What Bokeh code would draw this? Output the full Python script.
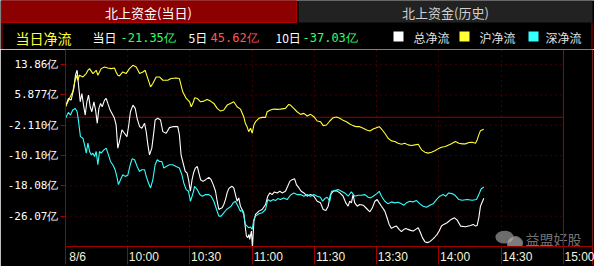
from bokeh.plotting import figure
from bokeh.layouts import column
from bokeh.models import Range1d, FixedTicker, Span, BoxAnnotation
from bokeh.core.properties import value
from bokeh.embed import file_html
from bokeh.resources import INLINE

# ---------------- data (minutes after 9:30 on a continuous session axis, value in 亿) ----------------
total_flow = [
    (0, 2.76), (1.4, 4.95), (2.7, 4.51), (4.0, 7.57), (4.8, 11.06), (5.6, 12.37), (6.3, 8.44), (7.1, 4.07), (7.9, 6.26), (8.7, 3.20),
    (9.5, 0.58), (10.3, 4.07), (11.1, 5.82), (11.9, 2.76), (12.7, 1.45), (13.7, 4.07), (14.5, 1.89), (15.3, -1.60), (16.1, 2.33), (16.9, 3.64),
    (17.7, 2.76), (18.8, 4.51), (19.6, 4.95), (20.4, 3.64), (21.5, 1.89), (22.8, 0.58), (23.6, -0.29), (24.4, -2.04), (25.2, -8.15), (26.0, -6.41),
    (27.2, -3.35), (28.4, -4.22), (29.6, -5.10), (30.5, -2.04), (31.3, 1.45), (32.5, 3.20), (33.6, 2.33), (34.5, -0.29), (35.7, -2.48), (36.8, -2.91),
    (38.1, -1.60), (38.9, -3.79), (39.7, -7.28), (40.5, -9.90), (41.6, -8.15), (42.6, -3.79), (43.2, -0.73), (44.5, -0.29), (45.8, -0.73), (46.9, -3.79),
    (48.5, -4.22), (50.1, -2.74), (51.7, -2.48), (54.1, -2.48), (54.9, -4.66), (55.7, -9.90), (56.9, -12.52), (57.7, -14.27), (58.6, -14.70), (59.3, -16.45),
    (60.2, -19.51), (61.0, -16.45), (61.7, -14.70), (62.6, -13.39), (63.5, -12.96), (64.3, -14.70), (65.1, -16.45), (66.3, -16.89), (67.5, -16.45), (69.1, -15.84),
    (70.2, -16.45), (71.2, -17.76), (72.3, -19.51), (73.1, -22.13), (73.9, -24.31), (74.7, -24.05), (75.5, -23.87), (76.3, -23.00), (77.1, -21.69), (77.9, -19.94),
    (78.7, -18.81), (79.5, -18.46), (80.3, -18.19), (81.1, -18.63), (81.9, -20.38), (82.7, -22.13), (83.5, -21.25), (84.3, -23.44), (85.1, -24.31), (85.9, -25.18),
    (86.7, -29.11), (87.2, -31.30), (87.9, -31.73), (88.4, -30.86), (88.8, -32.17), (89.6, -29.99), (90.1, -34.35), (90.8, -27.37), (91.6, -25.62), (93.2, -24.74),
    (94.8, -24.31), (96.4, -23.00), (97.5, -20.81), (98.5, -19.94), (99.6, -20.38), (100.7, -19.68), (102.0, -19.94), (103.3, -19.51), (104.4, -19.94), (106.0, -19.51),
    (107.1, -18.19), (108.1, -16.89), (109.2, -16.45), (110.4, -16.19), (111.3, -17.76), (112.5, -18.63), (113.6, -19.51), (114.9, -19.94), (116.5, -20.81), (118.1, -20.38),
    (119.7, -20.81), (121.3, -22.13), (122.9, -22.56), (124.2, -24.31), (125.5, -24.57), (126.6, -23.44), (127.7, -20.38), (129.0, -19.51), (130.6, -19.33), (132.2, -19.94),
    (133.8, -20.81), (135.1, -22.56), (136.2, -23.44), (137.0, -22.13), (137.8, -22.56), (138.6, -20.38), (139.4, -22.56), (140.6, -23.44), (141.8, -23.00), (143.5, -23.17),
    (145.1, -24.05), (146.7, -24.92), (147.9, -23.87), (149.1, -22.13), (150.2, -21.69), (151.2, -22.56), (152.3, -23.44), (153.9, -24.74), (155.0, -26.49), (156.0, -28.24),
    (157.1, -29.29), (158.2, -28.94), (159.5, -28.67), (160.8, -29.55), (161.9, -30.16), (163.1, -29.55), (164.0, -29.29), (165.1, -29.55), (166.3, -29.81), (167.6, -29.99),
    (168.8, -29.55), (170.0, -29.11), (171.1, -30.42), (172.0, -31.73), (173.2, -32.78), (174.3, -33.04), (175.6, -32.78), (176.9, -32.17), (178.0, -31.56), (179.1, -30.86),
    (180.1, -29.99), (181.2, -28.67), (182.3, -28.24), (183.9, -27.81), (185.9, -26.93), (187.5, -26.50), (188.8, -27.11), (190.4, -28.68), (192.8, -28.85), (195.2, -28.51),
    (196.5, -28.24), (197.6, -28.68), (198.4, -28.51), (199.2, -26.50), (200.0, -23.44), (200.8, -22.39), (201.6, -21.35),
]

sh_flow = [
    (0, 2.76), (1.9, 4.95), (3.5, 6.69), (5.1, 11.06), (5.9, 9.75), (6.7, 11.06), (8.4, 10.62), (10.0, 11.50), (10.8, 12.37), (11.6, 12.81),
    (13.2, 11.50), (14.8, 12.37), (15.6, 11.06), (17.2, 12.81), (18.8, 13.24), (20.4, 12.98), (22.0, 12.81), (23.6, 12.98), (24.4, 11.93), (25.2, 11.06),
    (26.0, 10.89), (27.6, 11.93), (29.2, 11.50), (30.8, 12.81), (32.5, 13.68), (34.1, 13.24), (35.7, 11.50), (37.3, 11.93), (38.4, 12.37), (39.7, 10.19),
    (41.0, 8.00), (42.1, 8.88), (43.7, 10.62), (45.3, 10.62), (46.9, 9.75), (49.3, 9.75), (50.9, 10.19), (53.3, 10.36), (54.9, 10.19), (56.5, 6.69),
    (58.2, 4.95), (59.8, 4.07), (60.6, 2.76), (61.7, 4.07), (62.2, 5.12), (63.5, 4.95), (65.1, 4.07), (66.7, 4.25), (68.3, 4.69), (69.9, 4.25),
    (71.5, 3.64), (73.1, 2.33), (74.7, 1.63), (76.3, 1.89), (77.9, 3.20), (79.5, 3.64), (81.1, 4.07), (82.7, 2.76), (84.3, 2.15), (85.9, 0.14),
    (86.7, -1.60), (87.5, -2.48), (88.3, -3.79), (89.2, -2.91), (90.0, -4.22), (90.8, -2.04), (91.6, -1.17), (93.2, -0.29), (94.8, -0.03), (96.4, -0.03),
    (97.2, 1.45), (98.8, 1.89), (100.4, 2.15), (102.0, 2.07), (103.6, 2.15), (106.0, 2.33), (107.6, 3.38), (108.4, 3.20), (110.0, 2.33), (111.6, 1.45),
    (113.3, 0.76), (114.9, 1.02), (116.5, 0.32), (118.1, 0.76), (119.7, 0.14), (121.3, -0.99), (122.9, -1.17), (124.2, -2.21), (125.8, -2.04), (127.4, -0.99),
    (129.0, -0.12), (130.6, 0.06), (132.2, -0.29), (133.8, -0.82), (135.4, -1.17), (137.0, -1.78), (138.6, -2.21), (140.2, -2.48), (141.8, -2.48), (143.5, -2.91),
    (145.1, -3.35), (146.7, -3.61), (148.3, -3.09), (149.9, -2.74), (151.2, -2.48), (152.3, -3.09), (153.9, -4.22), (155.5, -5.53), (157.1, -6.23), (158.7, -6.41),
    (160.3, -6.84), (161.9, -7.10), (163.5, -6.84), (165.1, -7.28), (166.7, -7.45), (168.4, -7.28), (170.0, -7.10), (171.6, -8.59), (173.2, -9.20), (174.8, -9.46),
    (176.4, -9.20), (178.0, -8.85), (179.6, -8.33), (181.2, -7.89), (183.1, -7.72), (185.5, -7.11), (187.9, -6.41), (189.6, -6.85), (191.2, -7.02), (192.8, -7.02),
    (194.4, -6.67), (196.0, -6.58), (197.6, -6.85), (198.4, -5.97), (199.2, -4.66), (200.0, -3.53), (201.6, -3.18),
]

sz_flow = [
    (0, -0.29), (1.4, 1.28), (2.4, 0.58), (3.5, 1.89), (4.7, 2.33), (5.6, 1.45), (6.3, -1.17), (7.2, -5.10), (8.4, -5.53), (9.2, -7.28),
    (10.0, -9.46), (10.8, -6.84), (11.6, -9.03), (12.4, -9.90), (13.2, -9.46), (14.0, -10.34), (14.8, -9.03), (15.6, -12.52), (16.4, -9.03), (17.2, -9.46),
    (18.5, -8.59), (19.6, -8.15), (20.7, -9.90), (21.7, -11.65), (22.8, -12.52), (23.9, -13.83), (24.9, -16.01), (25.5, -17.76), (26.5, -16.45), (27.6, -15.14),
    (28.8, -15.58), (30.0, -15.31), (31.2, -12.52), (32.1, -10.95), (33.3, -11.21), (34.5, -12.96), (35.7, -14.27), (36.8, -13.83), (38.1, -13.83), (38.9, -15.58),
    (40.0, -17.32), (41.0, -18.63), (42.1, -16.45), (43.2, -12.52), (44.2, -11.21), (45.3, -11.65), (46.4, -11.65), (47.4, -13.39), (48.5, -12.96), (50.1, -12.52),
    (51.7, -12.52), (53.3, -12.96), (54.9, -13.39), (56.1, -15.14), (57.0, -17.32), (58.2, -19.07), (59.3, -19.51), (60.2, -22.13), (61.0, -20.82), (61.7, -19.51),
    (62.2, -18.19), (63.5, -19.07), (64.7, -20.38), (65.9, -20.81), (67.5, -20.38), (69.1, -20.38), (70.2, -20.81), (71.5, -22.13), (72.8, -24.31), (73.9, -26.06),
    (75.0, -26.06), (76.3, -25.18), (77.6, -24.31), (78.7, -23.87), (79.8, -23.44), (80.8, -22.56), (81.9, -22.13), (82.7, -23.00), (83.5, -23.87), (84.3, -24.74),
    (85.1, -24.57), (85.9, -25.62), (86.7, -28.24), (87.5, -28.67), (88.3, -29.11), (89.2, -28.94), (90.0, -29.55), (90.8, -26.93), (91.6, -26.06), (93.2, -25.44),
    (94.8, -25.18), (96.4, -24.31), (97.5, -21.69), (98.8, -22.13), (100.1, -21.69), (101.2, -21.95), (102.3, -21.43), (103.6, -21.69), (105.2, -21.25), (106.8, -21.69),
    (108.4, -20.55), (110.0, -19.94), (111.6, -20.38), (113.3, -20.38), (114.9, -20.81), (116.5, -20.38), (118.1, -20.81), (119.7, -20.38), (121.3, -20.81), (122.9, -21.08),
    (123.9, -22.13), (125.0, -21.43), (126.1, -21.08), (127.4, -22.13), (128.2, -19.51), (129.8, -19.33), (131.4, -19.07), (133.0, -19.51), (134.6, -19.94), (136.2, -20.81),
    (137.8, -19.68), (139.4, -20.81), (141.0, -20.55), (142.6, -20.55), (144.3, -20.38), (145.9, -21.08), (147.0, -21.25), (148.3, -20.81), (149.9, -20.20), (151.2, -19.51),
    (152.3, -20.81), (153.9, -22.13), (155.5, -22.82), (157.1, -22.30), (158.7, -22.56), (160.3, -22.39), (161.9, -22.82), (163.1, -23.17), (164.3, -22.56), (165.9, -22.13),
    (167.5, -22.30), (169.2, -21.95), (170.8, -22.82), (172.4, -23.44), (174.0, -23.70), (175.6, -23.17), (177.2, -22.82), (178.8, -21.69), (180.4, -20.81), (182.0, -20.38),
    (183.3, -20.81), (184.7, -19.95), (186.3, -20.12), (187.9, -20.64), (189.6, -21.69), (191.2, -21.87), (193.6, -21.69), (196.0, -21.87), (198.1, -21.69), (199.2, -20.38),
    (200.3, -18.90), (201.6, -18.37),
]

today_net = -21.35
five_day_net = 45.62
ten_day_net = -37.03

y_ticks = [13.86, 5.877, -2.110, -10.10, -18.08, -26.07]
y_tick_labels = ["13.86亿", "5.877亿", "-2.110亿", "-10.10亿", "-18.08亿", "-26.07亿"]
x_separators = [0, 30, 60, 90, 120, 150, 180, 210, 240]
x_tick_labels = ["8/6", "10:00", "10:30", "11:00", "11:30", "13:30", "14:00", "14:30", "15:00"]
legend_names = ["总净流", "沪净流", "深净流"]
tab_names = ["北上资金(当日)", "北上资金(历史)"]

# ---------------- style ----------------
BG = "#000000"
RED = "#a00000"
GRID = "#800000"
CN = value("Noto Sans CJK SC")
MONO = value("DejaVu Sans Mono")
C_TOTAL, C_SH, C_SZ = "#ffffff", "#ffff33", "#33ffff"
C_UP, C_DOWN = "#ff5555", "#33ff66"

# ---------------- header ----------------
hdr = figure(width=594, height=49, x_range=Range1d(0, 594), y_range=Range1d(49, 0),
             toolbar_location=None, output_backend="svg", min_border=0,
             x_axis_location=None, y_axis_location=None,
             background_fill_color=BG, border_fill_color=BG, outline_line_color=None)
hdr.grid.visible = False

hdr.quad(left=[1], right=[296], top=[0], bottom=[22], fill_color="#8b0000", line_color="#b00000")
hdr.quad(left=[298], right=[592], top=[0], bottom=[22], fill_color="#222222", line_color=None)
hdr.segment(x0=[1.5, 591.5], x1=[1.5, 591.5], y0=[22, 22], y1=[49, 49], line_color=RED)
hdr.text(x=[148], y=[11.5], text=[tab_names[0]], text_align="center", text_baseline="middle",
         text_color="#ffffff", text_font=CN, text_font_size=value("13px"))
hdr.text(x=[445], y=[11.5], text=[tab_names[1]], text_align="center", text_baseline="middle",
         text_color="#d0d0d0", text_font=CN, text_font_size=value("13px"))

hdr.text(x=[15], y=[37], text=["当日净流"], text_baseline="middle", text_color="#ffff33",
         text_font=CN, text_font_size=value("14px"))
hdr.text(x=[92, 188, 275], y=[37, 37, 37], text=["当日", "5日", "10日"], text_baseline="middle",
         text_color="#ffffff", text_font=CN, text_font_size=value("12px"))


def fmt(v):
    return f"{v:.2f}亿"


nets = [today_net, five_day_net, ten_day_net]
hdr.text(x=[120, 210, 302], y=[37, 37, 37], text=[fmt(v) for v in nets], text_baseline="middle",
         text_color=[C_UP if v > 0 else C_DOWN for v in nets], text_font=MONO,
         text_font_size=value("12px"))

hdr.quad(left=[393, 459, 528], right=[403, 469, 538], top=[31, 31, 31], bottom=[41, 41, 41],
         fill_color=[C_TOTAL, C_SH, C_SZ], line_color=None)
hdr.text(x=[413, 479, 545], y=[37, 37, 37], text=legend_names, text_baseline="middle",
         text_color="#e0e0e0", text_font=CN, text_font_size=value("12px"))

# ---------------- main chart ----------------
p = figure(width=594, height=217, x_range=Range1d(0, 254), y_range=Range1d(-34.06, 17.85),
           toolbar_location=None, output_backend="svg",
           min_border_left=65, min_border_right=2, min_border_top=0, min_border_bottom=18,
           background_fill_color=BG, border_fill_color=BG, outline_line_color=None)

if hasattr(hdr, "frame_align"):
    hdr.frame_align = False
    p.frame_align = False

px_per_min = 498 / 240
label_centers = [s + (6.35 + 1.95 * len(l)) / px_per_min for s, l in zip(x_separators, x_tick_labels)]
p.xaxis.ticker = FixedTicker(ticks=label_centers, minor_ticks=x_separators + [254])
p.xaxis.major_label_overrides = {c: l for c, l in zip(label_centers, x_tick_labels)}
p.xaxis.major_tick_out = 0
p.xaxis.major_tick_in = 0
p.xaxis.minor_tick_out = 0
p.xaxis.minor_tick_in = -18
p.xaxis.minor_tick_line_color = RED
p.xaxis.axis_line_color = RED
p.xaxis.major_label_standoff = 3
p.xaxis.major_label_text_color = "#f4f4dc"
p.xaxis.major_label_text_font = "Liberation Sans"
p.xaxis.major_label_text_font_size = "12px"

p.yaxis.ticker = FixedTicker(ticks=y_ticks)
p.yaxis.major_label_overrides = {t: l for t, l in zip(y_ticks, y_tick_labels)}
p.yaxis.major_tick_out = 5
p.yaxis.major_tick_in = 0
p.yaxis.minor_tick_out = 0
p.yaxis.major_tick_line_color = RED
p.yaxis.axis_line_color = RED
p.yaxis.major_label_standoff = 2
p.yaxis.major_label_text_color = "#ffffff"
p.yaxis.major_label_text_font = "DejaVu Sans Mono"
p.yaxis.major_label_text_font_size = "11px"

p.xgrid.ticker = FixedTicker(ticks=x_separators[1:-1])
p.xgrid.grid_line_color = GRID
p.xgrid.grid_line_dash = "1 4"
p.ygrid.visible = False

session_end = x_separators[-1]
p.segment(x0=[0] * len(y_ticks), x1=[session_end] * len(y_ticks), y0=y_ticks, y1=y_ticks,
          line_color=GRID, line_dash="1 4", line_width=1)
p.segment(x0=[0], x1=[session_end], y0=[0], y1=[0], line_color="#9a0000", line_width=1.2)
p.add_layout(Span(location=session_end, dimension="height", line_color=RED, line_width=1))
p.add_layout(Span(location=254, dimension="height", line_color=RED, line_width=1))

# left border / lower-left cell
p.add_layout(BoxAnnotation(left=-30.4, right=0, top=17.85, bottom=-38.8, fill_alpha=0,
                           line_color=RED, line_width=1))
p.add_layout(BoxAnnotation(left=-30.4, right=0, top=-34.06, bottom=-38.8, fill_alpha=0,
                           line_color=RED, line_width=1))

for series, color in ((total_flow, C_TOTAL), (sh_flow, C_SH), (sz_flow, C_SZ)):
    t, v = zip(*series)
    p.line(list(t), list(v), line_color=color, line_width=1.1)

# watermark
p.ellipse(x=[211.6], y=[-31.6], width=[8.7], height=[3.4], fill_color="#9a9a9a", fill_alpha=0.7,
          line_color=None)
p.ellipse(x=[216.6], y=[-33.2], width=[7.4], height=[3.6], fill_color="#b0b0b0", fill_alpha=0.7,
          line_color="#707070")
p.text(x=[221.7], y=[-32.2], text=["益盟好股"], text_baseline="middle", text_color="#8a8a8a",
       text_alpha=0.85, text_font=CN, text_font_size=value("14px"))

layout = column(hdr, p, spacing=0)
open("out.html", "w").write(file_html(layout, INLINE))
